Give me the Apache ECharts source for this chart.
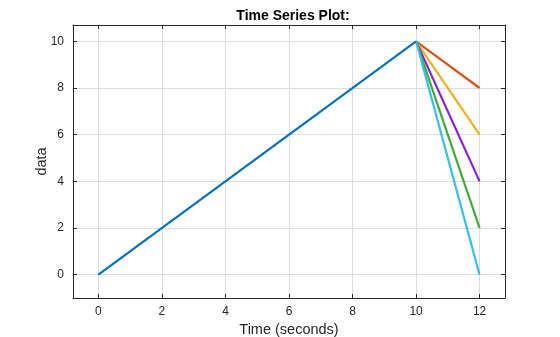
<!DOCTYPE html>
<html>
<head>
<meta charset="utf-8">
<script src="https://cdn.jsdelivr.net/npm/echarts@6/dist/echarts.min.js"></script>
<style>html,body{margin:0;padding:0;background:#fff;}#c{width:560px;height:337px;}</style>
</head>
<body>
<div id="c"></div>
<script>
var titleText = "Time Series Plot:";
var xName = "Time (seconds)";
var yName = "data";
var xTicks = [0, 2, 4, 6, 8, 10, 12];
var yTicks = [0, 2, 4, 6, 8, 10];
var rampTime = [0, 10];
var rampValue = [0, 10];
var branchTime = [10, 12];
var branchStart = 10;
var branchEnd = [8, 6, 4, 2, 0];
var colors = ["#0072BD", "#D95319", "#EDB120", "#8A1FD6", "#3FAA32", "#35BDEE"];

var font = "Liberation Sans, Arial, sans-serif";
var series = [];
branchEnd.forEach(function (v, i) {
  series.push({
    type: 'line', showSymbol: false, silent: true,
    data: [[branchTime[0], branchStart], [branchTime[1], v]],
    lineStyle: { width: 2.2, color: colors[i + 1] }, z: 2 + i
  });
});
series.push({
  type: 'line', showSymbol: false, silent: true,
  data: rampTime.map(function (t, i) { return [t, rampValue[i]]; }),
  lineStyle: { width: 2.2, color: colors[0] }, z: 10
});

var gridLine = { show: true, lineStyle: { color: '#dcdcdc', width: 1 } };
var axisLine = { show: true, onZero: false, lineStyle: { color: '#262626', width: 1 } };
var tickStyle = { show: true, inside: true, length: 4, lineStyle: { color: '#262626' } };

var chart = echarts.init(document.getElementById('c'), null, { renderer: 'canvas' });
chart.setOption({
  animation: false,
  backgroundColor: '#fff',
  title: {
    text: titleText, left: 288, top: 4, textAlign: 'center',
    textStyle: { fontFamily: font, fontSize: 14, fontWeight: 'bold', color: '#000' }
  },
  grid: { left: 73, top: 25, right: 55, bottom: 39, containLabel: false, outerBoundsMode: 'none' },
  xAxis: [{
    type: 'value', min: -0.8, max: 12.8,
    name: xName, nameLocation: 'middle', nameGap: 21,
    nameTextStyle: { fontFamily: font, fontSize: 14.5, color: '#262626' },
    axisLine: axisLine,
    axisTick: Object.assign({ customValues: xTicks }, tickStyle),
    axisLabel: { customValues: xTicks, margin: 8, fontFamily: font, fontSize: 12, color: '#262626' },
    splitLine: gridLine
  }, {
    type: 'value', min: -0.8, max: 12.8, position: 'top',
    axisLine: axisLine,
    axisTick: Object.assign({ customValues: xTicks }, tickStyle),
    axisLabel: { show: false, customValues: xTicks },
    splitLine: { show: false }
  }],
  yAxis: [{
    type: 'value', min: -1, max: 10.7,
    name: yName, nameLocation: 'middle', nameGap: 24, nameMoveOverlap: false,
    nameTextStyle: { fontFamily: font, fontSize: 14.5, color: '#262626' },
    axisLine: axisLine,
    axisTick: Object.assign({ customValues: yTicks }, tickStyle),
    axisLabel: { customValues: yTicks, margin: 9, fontFamily: font, fontSize: 12, color: '#262626' },
    splitLine: gridLine
  }, {
    type: 'value', min: -1, max: 10.7, position: 'right',
    axisLine: axisLine,
    axisTick: Object.assign({ customValues: yTicks }, tickStyle),
    axisLabel: { show: false, customValues: yTicks },
    splitLine: { show: false }
  }],
  series: series
});
</script>
</body>
</html>
